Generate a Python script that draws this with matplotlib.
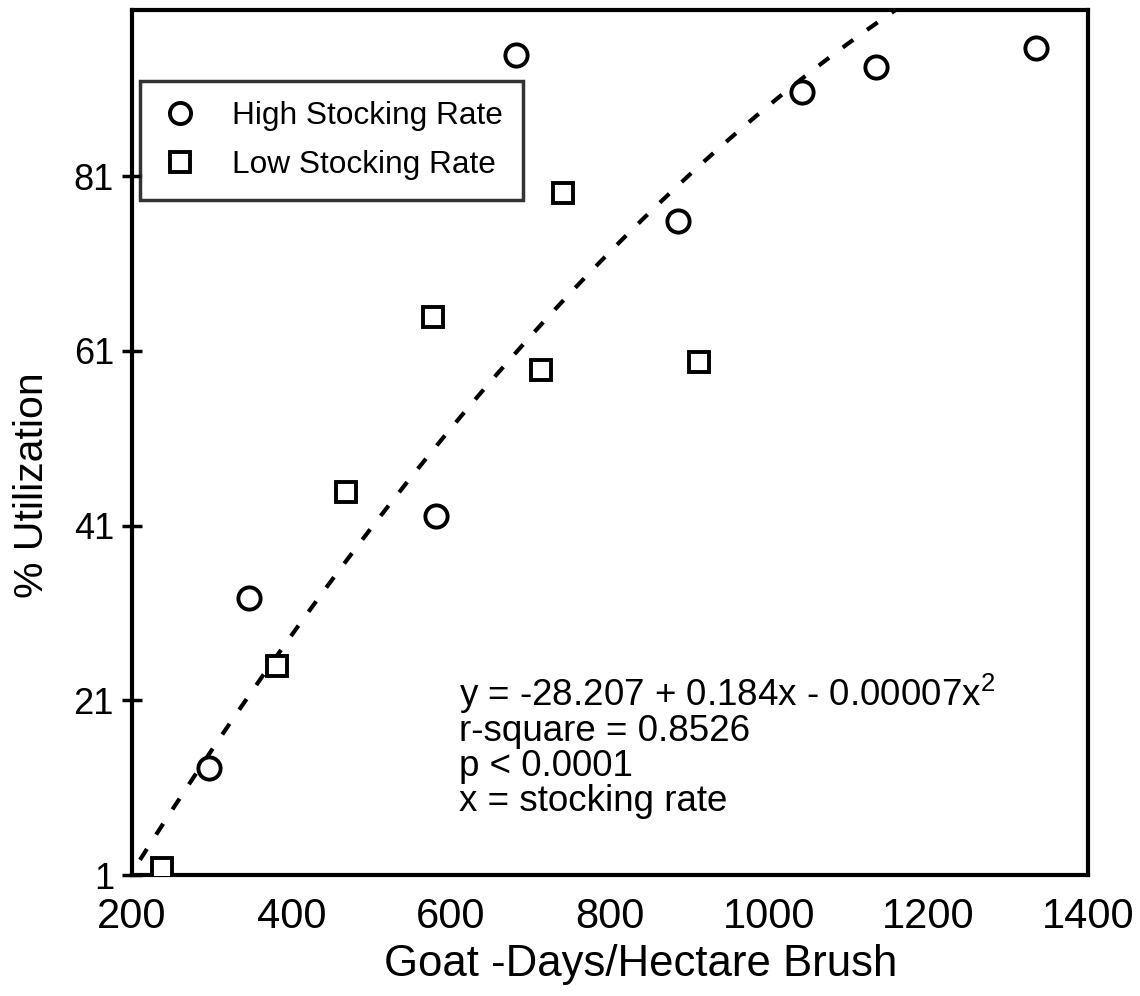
import numpy as np
import matplotlib
matplotlib.use("Agg")
import matplotlib.pyplot as plt

plt.rcParams['font.family'] = ['Liberation Sans', 'DejaVu Sans']
plt.rcParams['mathtext.fontset'] = 'custom'
plt.rcParams['mathtext.rm'] = 'Liberation Sans'
plt.rcParams['mathtext.it'] = 'Liberation Sans'

# High stocking rate (circles)
high_x = [297, 347, 582, 682, 885, 1041, 1134, 1335]
high_y = [13.2, 32.7, 42.1, 94.9, 75.8, 90.6, 93.5, 95.7]

# Low stocking rate (squares)
low_x = [238, 382, 469, 578, 713, 741, 912]
low_y = [1.8, 24.9, 44.8, 64.9, 58.8, 79.1, 59.7]

# Points
trend_x = [235, 306, 365, 423, 484, 545, 612, 681, 750, 822, 898, 972, 1052, 1134]
trend_y = [5.6, 16.2, 24.0, 31.5, 39.3, 46.4, 53.7, 60.7, 67.2, 74.0, 80.3, 86.8, 92.9, 99.1]

x_ticks = [200, 400, 600, 800, 1000, 1200, 1400]
y_ticks = [1, 21, 41, 61, 81]

annotation_lines = [
    "y = -28.207 + 0.184x - 0.00007x$^{2}$",
    "r-square = 0.8526",
    "p < 0.0001",
    "x = stocking rate",
]

fig = plt.figure(figsize=(11.4, 9.96), dpi=100)
ax = fig.add_axes([132/1140, 121/996, 956/1140, 865/996])

coef = np.polyfit(trend_x, trend_y, 2)
xs = np.linspace(210, 1200, 400)
ax.plot(xs, np.polyval(coef, xs), color='black', lw=3, dashes=(3.1, 4.1), zorder=2)

ax.plot(high_x, high_y, linestyle='none', marker='o', ms=16, mfc='white', mec='black',
        mew=2.8, label='High Stocking Rate', zorder=3)
ax.plot(low_x, low_y, linestyle='none', marker='s', ms=15, mfc='white', mec='black',
        mew=2.8, label='Low Stocking Rate', zorder=3)

ax.set_xlim(200, 1400)
ax.set_ylim(1, 100)
ax.set_xticks(x_ticks)
ax.set_yticks(y_ticks)
ax.tick_params(axis='x', length=0, pad=16, labelsize=30)
ax.tick_params(axis='y', direction='inout', length=14, width=2.5, pad=6, labelsize=26)
for s in ax.spines.values():
    s.set_linewidth(3)

ax.set_xlabel("Goat -Days/Hectare Brush", fontsize=31.5)
ax.xaxis.set_label_coords(0.532, -0.08)
ax.set_ylabel("% Utilization", fontsize=29.5)
ax.yaxis.set_label_coords(-0.085, 0.451)

base_px = [706, 741, 776, 811]
for line, py in zip(annotation_lines, base_px):
    ax.text((459-132)/956, (875-py)/865, line, transform=ax.transAxes,
            fontsize=26.5, va='baseline', ha='left')

leg = ax.legend(loc='upper left', bbox_to_anchor=((140-132)/956, (875-81)/865),
                fontsize=22.8, frameon=True, fancybox=False, borderpad=0.62,
                labelspacing=0.62, handlelength=1.3, handletextpad=1.0,
                borderaxespad=0, markerscale=0.95)
leg.get_frame().set_edgecolor('black')
leg.get_frame().set_linewidth(2.5)

fig.savefig("out.png", dpi=100)
